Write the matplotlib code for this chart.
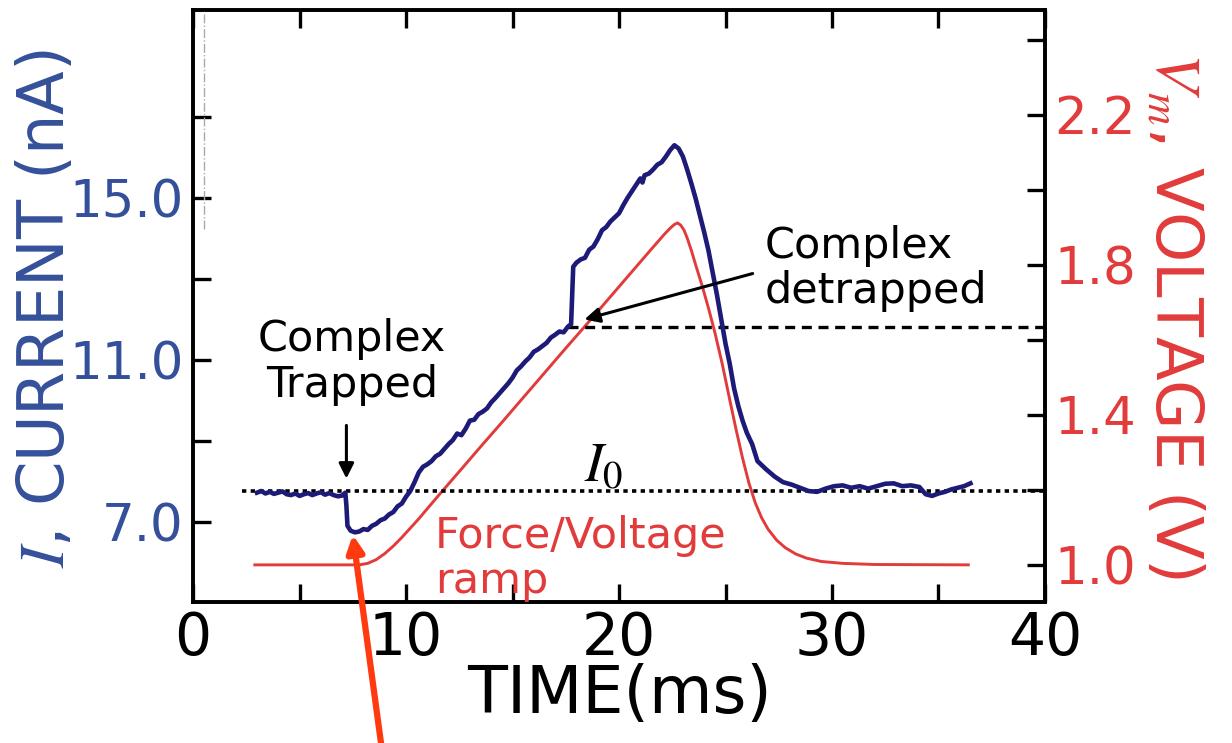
import matplotlib
matplotlib.use('Agg')
import matplotlib.pyplot as plt
import numpy as np

plt.rcParams['mathtext.fontset'] = 'stix'
plt.rcParams['font.family'] = ['DejaVu Sans']

# current trace (ms, nA)
t_cur = [3.0, 3.2, 3.4, 3.6, 3.8, 4.0, 4.2, 4.4, 4.6, 4.8, 5.0, 5.2, 5.4, 5.6, 5.8,
         6.0, 6.2, 6.4, 6.6, 6.8, 7.0, 7.15, 7.2, 7.25, 7.4, 7.6, 7.8, 8.0, 8.2, 8.4,
         8.6, 8.8, 9.0, 9.2, 9.4, 9.6, 9.8, 10.0, 10.2, 10.4, 10.6, 10.8, 11.0, 11.2,
         11.4, 11.6, 11.8, 12.0, 12.2, 12.4, 12.6, 12.8, 13.0, 13.2, 13.4, 13.6, 13.8,
         14.0, 14.2, 14.4, 14.6, 14.8, 15.0, 15.2, 15.4, 15.6, 15.8, 16.0, 16.2, 16.4,
         16.6, 16.8, 17.0, 17.2, 17.4, 17.6, 17.75, 17.8, 17.85, 18.0, 18.2, 18.4,
         18.6, 18.8, 19.0, 19.2, 19.4, 19.6, 19.8, 20.0, 20.2, 20.4, 20.6, 20.8, 21.0,
         21.1, 21.2, 21.4, 21.6, 21.8, 22.0, 22.2, 22.4, 22.6, 22.8, 23.0, 23.2, 23.4,
         23.6, 23.8, 24.0, 24.2, 24.4, 24.6, 24.8, 25.0, 25.2, 25.4, 25.6, 25.8, 26.0,
         26.25, 26.5, 26.9, 27.3, 27.7, 28.1, 28.5, 28.9, 29.3, 29.7, 30.1, 30.5, 30.9,
         31.3, 31.7, 32.1, 32.5, 32.9, 33.3, 33.7, 34.1, 34.4, 34.7, 35.0, 35.3, 35.6,
         35.9, 36.2, 36.5]
i_cur = [7.72, 7.76, 7.70, 7.74, 7.69, 7.72, 7.75, 7.68, 7.66, 7.70, 7.64, 7.68, 7.71,
         7.66, 7.70, 7.73, 7.67, 7.71, 7.66, 7.63, 7.65, 7.72, 7.40, 6.90, 6.78, 6.74,
         6.76, 6.82, 6.80, 6.90, 6.95, 7.04, 7.08, 7.18, 7.24, 7.38, 7.45, 7.62, 7.76,
         7.98, 8.22, 8.36, 8.42, 8.50, 8.62, 8.68, 8.80, 8.92, 9.02, 9.18, 9.14, 9.30,
         9.50, 9.52, 9.66, 9.72, 9.80, 9.95, 10.06, 10.18, 10.30, 10.42, 10.56, 10.74,
         10.84, 10.96, 11.06, 11.20, 11.26, 11.34, 11.42, 11.55, 11.62, 11.70, 11.68,
         11.82, 11.88, 12.60, 13.30, 13.40, 13.48, 13.52, 13.72, 13.80, 13.98, 14.20,
         14.28, 14.42, 14.52, 14.62, 14.82, 15.00, 15.16, 15.32, 15.48, 15.38, 15.56,
         15.60, 15.70, 15.82, 15.88, 16.02, 16.18, 16.30, 16.22, 16.02, 15.70, 15.35,
         14.98, 14.56, 14.15, 13.70, 13.15, 12.60, 12.00, 11.40, 10.90, 10.30, 9.86,
         9.50, 9.20, 8.92, 8.50, 8.30, 8.12, 7.98, 7.92, 7.84, 7.76, 7.74, 7.82, 7.88,
         7.90, 7.84, 7.88, 7.82, 7.88, 7.94, 7.95, 7.88, 7.90, 7.86, 7.68, 7.64, 7.70,
         7.74, 7.80, 7.84, 7.88, 7.95]

# applied voltage ramp (ms, V)
t_volt = [2.9, 7.8, 8.2, 8.6, 9.0, 9.4, 9.8, 10.2, 10.6, 11.0, 11.6, 12.5, 13.5, 14.5,
          15.5, 16.5, 17.5, 18.5, 19.5, 20.5, 21.5, 22.1, 22.4, 22.6, 22.75, 22.9,
          23.05, 23.2, 23.4, 23.6, 23.9, 24.2, 24.5, 24.85, 25.2, 25.5, 25.8, 26.1,
          26.4, 26.7, 27.0, 27.4, 27.8, 28.3, 28.8, 29.5, 30.5, 32.0, 36.4]
v_volt = [1.0, 1.0, 1.004, 1.014, 1.030, 1.050, 1.073, 1.098, 1.123, 1.150, 1.190,
          1.249, 1.315, 1.380, 1.446, 1.512, 1.578, 1.643, 1.709, 1.775, 1.841, 1.880,
          1.898, 1.908, 1.912, 1.906, 1.893, 1.872, 1.838, 1.800, 1.745, 1.685, 1.620,
          1.535, 1.440, 1.360, 1.285, 1.218, 1.165, 1.125, 1.095, 1.066, 1.046, 1.029,
          1.018, 1.009, 1.004, 1.001, 1.0]

i0_level = 7.75       # open-pore current
detrap_level = 11.8   # current at release
t_trap = 7.2
t_detrap_tip = 18.25

cur_ticks = [7, 9, 11, 13, 15, 17]
cur_labels = ['7.0', '', '11.0', '', '15.0', '']
volt_ticks = [1.0, 1.2, 1.4, 1.6, 1.8, 2.0, 2.2, 2.4]
volt_labels = ['1.0', '', '1.4', '', '1.8', '', '2.2', '']

blue = '#1e1a78'
blue_txt = '#34509a'
red = '#e23b3b'

fig = plt.figure(figsize=(12.32, 7.43), dpi=100)
ax = fig.add_axes([0.1567, 0.1898, 0.6915, 0.7967])
ax2 = ax.twinx()
ax.set_zorder(ax2.get_zorder() + 1)
ax.patch.set_visible(False)

ax.plot(t_cur, i_cur, color=blue, lw=3.3, solid_joinstyle='round', zorder=3)
ax2.plot(t_volt, v_volt, color=red, lw=2.1)

ax.axhline(i0_level, xmin=2.3 / 40, xmax=1, color='black', lw=2.6,
           linestyle=(0, (1.2, 1.2)), zorder=2)
ax.axhline(detrap_level, xmin=17.6 / 40, xmax=1, color='black', lw=2.4,
           linestyle=(0, (3, 2)), zorder=2)
# faint leftover guide near the left spine
ax.axvline(0.5, ymin=0.63, ymax=1, color='#aaaaaa', lw=1.0, linestyle='-.')

ax.set_xlim(0, 40)
ax.set_ylim(5.02, 19.64)
ax2.set_ylim(0.901, 2.48)

ax.set_xticks([0, 10, 20, 30, 40])
ax.set_xticks([5, 15, 25, 35], minor=True)
ax.set_yticks(cur_ticks)
ax.set_yticklabels(cur_labels)
ax2.set_yticks(volt_ticks)
ax2.set_yticklabels(volt_labels)

for a in (ax, ax2):
    for s in a.spines.values():
        s.set_linewidth(2.6)

ax.tick_params(axis='x', which='both', direction='in', length=13, width=2.4,
               top=True, labelsize=42, pad=6)
ax.tick_params(axis='y', direction='in', length=13, width=2.4, right=False,
               labelsize=37, labelcolor=blue_txt, pad=7)
ax2.tick_params(axis='y', direction='in', length=13, width=2.4,
                labelsize=37, labelcolor=red, pad=7)

ax.set_xlabel('TIME(ms)', fontsize=47, labelpad=-3)
fig.text(0.037, 0.585, r'$I$, CURRENT (nA)', rotation=90, ha='center', va='center',
         fontsize=46, color=blue_txt)
fig.text(0.953, 0.575, r'$V_m$, VOLTAGE (V)', rotation=-90, ha='center', va='center',
         fontsize=46, color=red)

# annotations
arrow_k = dict(arrowstyle='-|>,head_width=0.45,head_length=0.9', color='black', lw=2.2)
ax.annotate('', xy=(t_trap, 8.0), xytext=(t_trap, 9.45), arrowprops=arrow_k)
ax.text(7.45, 10.95, 'Complex\nTrapped', ha='center', va='center', fontsize=31,
        linespacing=1.1)
ax.annotate('', xy=(t_detrap_tip, 11.98), xytext=(26.4, 13.15), arrowprops=arrow_k)
ax.text(26.85, 13.25, 'Complex\ndetrapped', ha='left', va='center', fontsize=31,
        linespacing=1.1)
ax.text(19.3, 8.0, r'$I_{\mathit{0}}$', ha='center', va='baseline', fontsize=40)
ax.text(11.35, 6.1, 'Force/Voltage\nramp', ha='left', va='center', fontsize=31,
        color=red, linespacing=1.1)

# pointer from below the figure to the dip
ax.annotate('', xy=(7.5, 6.68), xycoords='data', xytext=(381, 0),
            textcoords='figure pixels',
            arrowprops=dict(arrowstyle='-|>,head_width=0.5,head_length=1.0',
                            color='#ff3a10', lw=4.5, shrinkA=0, shrinkB=0),
            annotation_clip=False)

fig.savefig('out.png', dpi=100)
